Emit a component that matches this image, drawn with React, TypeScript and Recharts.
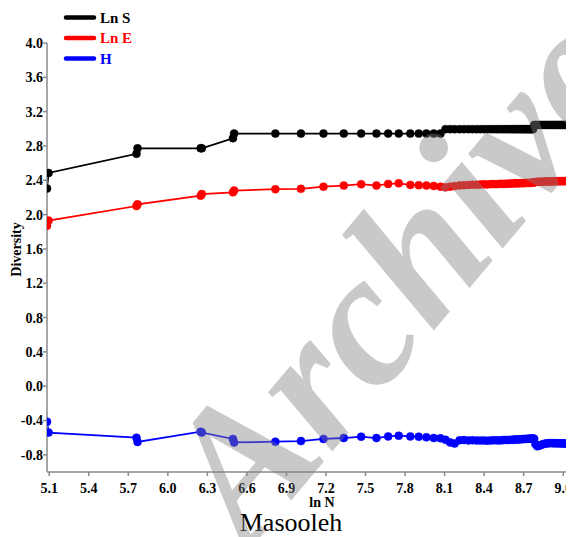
import React from 'react'
import { LineChart, Line, XAxis, YAxis } from 'recharts'

// ln N of the cumulative samples
const LN_N = [
  5.083, 5.095, 5.762, 5.770, 6.249, 6.258, 6.494, 6.503, 6.816, 7.010,
  7.181, 7.335, 7.467, 7.583, 7.672, 7.752, 7.840, 7.904, 7.962, 8.018,
  8.069,
  8.107, 8.142, 8.176, 8.214, 8.247, 8.281, 8.312, 8.343, 8.371, 8.398,
  8.423, 8.447, 8.469, 8.491, 8.511, 8.531, 8.549, 8.567, 8.584, 8.600,
  8.616, 8.631, 8.645, 8.659, 8.672, 8.685, 8.697, 8.709, 8.720, 8.731,
  8.742, 8.752, 8.762, 8.771, 8.780,
  8.789, 8.803, 8.817, 8.831, 8.845, 8.858, 8.871, 8.884, 8.897, 8.910,
  8.922, 8.934, 8.946, 8.958, 8.970, 8.981, 8.992, 9.003, 9.014, 9.025,
  9.036, 9.046, 9.056, 9.066, 9.076, 9.086, 9.096,
]

const LN_S = [
  2.303, 2.485, 2.708, 2.773, 2.773, 2.773, 2.890, 2.944, 2.944, 2.944,
  2.944, 2.944, 2.944, 2.944, 2.944, 2.944, 2.944, 2.944, 2.944, 2.944,
  2.944,
  2.996, 2.996, 2.996, 2.996, 2.996, 2.996, 2.996, 2.996, 2.996, 2.996,
  2.996, 2.996, 2.996, 2.996, 2.996, 2.996, 2.996, 2.996, 2.996, 2.996,
  2.996, 2.996, 2.996, 2.996, 2.996, 2.996, 2.996, 2.996, 2.996, 2.996,
  2.996, 2.996, 2.996, 2.996, 3.045,
  3.045, 3.045, 3.045, 3.045, 3.045, 3.045, 3.045, 3.045, 3.045, 3.045,
  3.045, 3.045, 3.045, 3.045, 3.045, 3.045, 3.045, 3.045, 3.045, 3.045,
  3.045, 3.045, 3.045, 3.045, 3.045, 3.045, 3.045,
]

const LN_E = [
  1.87, 1.93, 2.10, 2.12, 2.22, 2.24, 2.26, 2.28, 2.296, 2.30,
  2.326, 2.338, 2.354, 2.338, 2.358, 2.365, 2.346, 2.342, 2.338, 2.334,
  2.326,
  2.318, 2.326, 2.332, 2.340, 2.343, 2.346, 2.349, 2.348, 2.351, 2.353,
  2.352, 2.355, 2.356, 2.355, 2.358, 2.359, 2.358, 2.360, 2.361, 2.363,
  2.362, 2.364, 2.365, 2.364, 2.366, 2.367, 2.366, 2.368, 2.369, 2.370,
  2.369, 2.371, 2.372, 2.373, 2.375,
  2.380, 2.382, 2.383, 2.384, 2.384, 2.385, 2.386, 2.386, 2.387, 2.387,
  2.388, 2.388, 2.388, 2.389, 2.389, 2.389, 2.390, 2.390, 2.390, 2.391,
  2.391, 2.391, 2.392, 2.392, 2.392, 2.393, 2.393,
]

const H = [
  -0.415, -0.54, -0.60, -0.65, -0.53, -0.54, -0.615, -0.655, -0.647, -0.640,
  -0.615, -0.604, -0.588, -0.604, -0.585, -0.577, -0.585, -0.588, -0.596, -0.604,
  -0.608,
  -0.625, -0.655, -0.668, -0.630, -0.628, -0.632, -0.630, -0.633, -0.634, -0.632,
  -0.635, -0.633, -0.631, -0.630, -0.632, -0.629, -0.628, -0.626, -0.627, -0.625,
  -0.624, -0.622, -0.620, -0.621, -0.619, -0.618, -0.616, -0.615, -0.614, -0.613,
  -0.612, -0.611, -0.610, -0.609, -0.612,
  -0.675, -0.700, -0.695, -0.685, -0.677, -0.670, -0.668, -0.665, -0.664, -0.663,
  -0.664, -0.665, -0.666, -0.665, -0.666, -0.667, -0.666, -0.667, -0.668, -0.667,
  -0.668, -0.668, -0.669, -0.668, -0.669, -0.669, -0.670,
]

const X_TICKS = [5.1, 5.4, 5.7, 6.0, 6.3, 6.6, 6.9, 7.2, 7.5, 7.8, 8.1, 8.4, 8.7, 9.0]
const Y_TICKS = [-0.8, -0.4, 0, 0.4, 0.8, 1.2, 1.6, 2.0, 2.4, 2.8, 3.2, 3.6, 4.0]

const SERIES = [
  { key: 'lnS', name: 'Ln S', color: '#000000' },
  { key: 'lnE', name: 'Ln E', color: '#ff0000' },
  { key: 'H', name: 'H', color: '#0000ff' },
]

const FONT = '"Liberation Serif", "Times New Roman", serif'
const AXIS_GREY = '#8a8a8a'

const rows = LN_N.map((x, i) => ({ lnN: x, lnS: LN_S[i], lnE: LN_E[i], H: H[i] }))

function LegendBox() {
  return (
    <svg width={160} height={64} style={{ position: 'absolute', left: 0, top: 0 }}>
      {SERIES.map((s, i) => (
        <g key={s.key}>
          <line x1={58} x2={86} y1={9.5 + i * 20.5} y2={9.5 + i * 20.5}
            stroke={s.color} strokeWidth={4.5} strokeLinecap="round" />
          <text x={92} y={9.5 + i * 20.5} dominantBaseline="central" fill={s.color}
            fontFamily={FONT} fontWeight="bold" fontSize={15}>{s.name}</text>
        </g>
      ))}
    </svg>
  )
}

export default function App() {
  return (
    <div style={{ position: 'relative', width: 566, height: 529, overflow: 'hidden', background: '#fff' }}>
      <LineChart width={580} height={529} data={rows} margin={{ top: 35, right: 9, bottom: 25, left: 0 }}>
        <XAxis
          dataKey="lnN"
          type="number"
          domain={[5.083, 9.12]}
          allowDataOverflow
          ticks={X_TICKS}
          tickFormatter={(v: number) => v.toFixed(1)}
          height={40}
          tickSize={4}
          tickMargin={7}
          stroke={AXIS_GREY}
          strokeWidth={1.5}
          tick={{ fill: '#000', fontFamily: FONT, fontWeight: 'bold', fontSize: 14 }}
          label={{
            content: (p: any) => {
              const vb = p.viewBox
              return (
                <text x={vb.x + vb.width / 2 + 9} y={vb.y + vb.height - 5.5} textAnchor="middle"
                  fontFamily={FONT} fontWeight="bold" fontSize={14} fill="#000">ln N</text>
              )
            },
          }}
        />
        <YAxis
          type="number"
          domain={[-1, 4]}
          ticks={Y_TICKS}
          tickFormatter={(v: number) => v.toFixed(1)}
          width={39}
          tickSize={4}
          tickMargin={0}
          stroke={AXIS_GREY}
          strokeWidth={1.5}
          tick={{ fill: '#000', fontFamily: FONT, fontWeight: 'bold', fontSize: 14 }}
          label={{
            content: (p: any) => {
              const vb = p.viewBox
              return (
                <text transform={`translate(${vb.x + 8.7},${vb.y + vb.height / 2 - 8}) rotate(-90)`}
                  textAnchor="middle" dominantBaseline="central"
                  fontFamily={FONT} fontWeight="bold" fontSize={14} fill="#000">Diversity</text>
              )
            },
          }}
        />
        {SERIES.map((s) => (
          <Line
            key={s.key}
            dataKey={s.key}
            name={s.name}
            stroke={s.color}
            strokeWidth={1.8}
            dot={{ r: 4, fill: s.color, stroke: s.color, strokeWidth: 0.5 }}
            activeDot={false}
            isAnimationActive={false}
          />
        ))}
      </LineChart>
      <LegendBox />
      <div style={{
        position: 'absolute', left: 0, top: 505, width: 566, textAlign: 'center',
        fontFamily: FONT, fontSize: 26, lineHeight: '20px', color: '#000',
      }}>Masooleh</div>
      <div style={{
        position: 'absolute', left: 388, top: 268, transform: 'translate(-50%, -50%) rotate(-50deg)',
        fontFamily: FONT, fontSize: 190, fontWeight: 'bold', fontStyle: 'italic', lineHeight: 1,
        color: '#808080', opacity: 0.42, whiteSpace: 'nowrap', pointerEvents: 'none',
      }}>Archive</div>
    </div>
  )
}
